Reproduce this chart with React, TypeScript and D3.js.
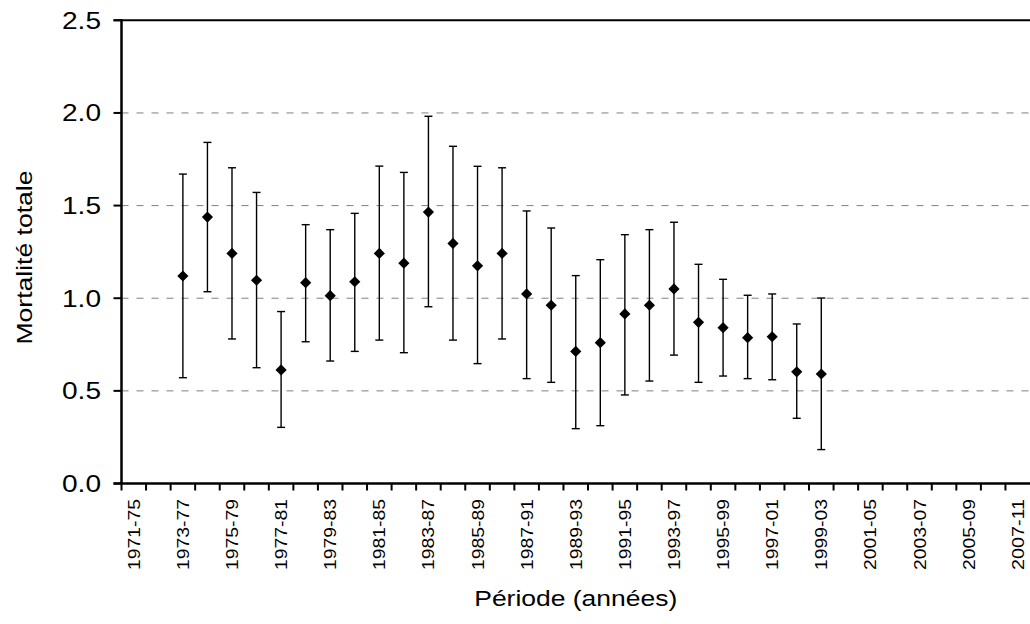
import React from "react";
import * as d3 from "d3";

const periods: string[] = [
  "1971-75","1972-76","1973-77","1974-78","1975-79","1976-80","1977-81","1978-82","1979-83","1980-84",
  "1981-85","1982-86","1983-87","1984-88","1985-89","1986-90","1987-91","1988-92","1989-93","1990-94",
  "1991-95","1992-96","1993-97","1994-98","1995-99","1996-00","1997-01","1998-02","1999-03","2000-04",
  "2001-05","2002-06","2003-07","2004-08","2005-09","2006-10","2007-11",
];

const estimate: (number | null)[] = [
  null, null, 1.12, 1.438, 1.242, 1.097, 0.613, 1.084, 1.014, 1.089,
  1.242, 1.189, 1.465, 1.296, 1.175, 1.242, 1.023, 0.962, 0.713, 0.76,
  0.915, 0.962, 1.05, 0.87, 0.841, 0.787, 0.792, 0.603, 0.591, null,
  null, null, null, null, null, null, null,
];

const lower: (number | null)[] = [
  null, null, 0.571, 1.035, 0.78, 0.625, 0.303, 0.765, 0.661, 0.713,
  0.774, 0.706, 0.954, 0.774, 0.647, 0.78, 0.566, 0.546, 0.296, 0.312,
  0.478, 0.553, 0.693, 0.546, 0.58, 0.566, 0.56, 0.352, 0.183, null,
  null, null, null, null, null, null, null,
];

const upper: (number | null)[] = [
  null, null, 1.67, 1.841, 1.704, 1.571, 0.928, 1.397, 1.37, 1.458,
  1.713, 1.679, 1.982, 1.82, 1.712, 1.704, 1.471, 1.379, 1.122, 1.208,
  1.343, 1.37, 1.41, 1.183, 1.102, 1.016, 1.023, 0.861, 1.001, null,
  null, null, null, null, null, null, null,
];

const yTicks: number[] = [0, 0.5, 1.0, 1.5, 2.0, 2.5];
const gridValues: number[] = [0.5, 1.0, 1.5, 2.0];

const W = 1030;
const H = 624;
const left = 121.5;
const right = 1030;
const top = 20.3;
const bottom = 483.5;
const font = "Liberation Sans, Arial, Helvetica, sans-serif";

export default function App() {
  const x = d3.scaleBand<string>().domain(periods).range([left, right]).padding(0);
  const y = d3.scaleLinear().domain([0, 2.5]).range([bottom, top]);
  const bw = x.bandwidth();
  const diamond = d3.symbol().type(d3.symbolDiamond2).size(80)();

  return (
    <svg width={W} height={H} style={{ position: "absolute", left: 0, top: 0, background: "#fff" }}>
      <rect width={W} height={H} fill="#fff" />
      {gridValues.map((v) => (
        <line key={"g" + v} x1={left} x2={right} y1={y(v)} y2={y(v)} stroke="#808080" strokeWidth={1} strokeDasharray="7,8" />
      ))}
      <line x1={left - 8} x2={right} y1={y(2.5)} y2={y(2.5)} stroke="#000" strokeWidth={2} />
      <line x1={left} x2={left} y1={top - 1} y2={bottom + 1} stroke="#000" strokeWidth={2.5} />
      {yTicks.map((v) => (
        <g key={"yt" + v}>
          <line x1={left - 8} x2={left} y1={y(v)} y2={y(v)} stroke="#000" strokeWidth={2} />
          <text x={101} y={y(v)} dy="0.36em" textAnchor="end" fontFamily={font} fontSize={23} fill="#000"
            textLength={39} lengthAdjust="spacingAndGlyphs">
            {v.toFixed(1)}
          </text>
        </g>
      ))}
      <line x1={left - 8} x2={right} y1={bottom} y2={bottom} stroke="#000" strokeWidth={2.5} />
      {periods.map((p) => (
        <line key={"xt" + p} x1={x(p)!} x2={x(p)!} y1={bottom} y2={bottom + 7} stroke="#000" strokeWidth={2} />
      ))}
      {periods.map((p, i) =>
        i % 2 === 0 ? (
          <text key={"xl" + p} transform={`translate(${x(p)! + bw / 2 + 6},${499}) rotate(-90)`} textAnchor="end"
            fontFamily={font} fontSize={16} fill="#000" textLength={71} lengthAdjust="spacingAndGlyphs">
            {p}
          </text>
        ) : null
      )}
      {periods.map((p, i) => {
        const e = estimate[i];
        const lo = lower[i];
        const hi = upper[i];
        if (e === null || lo === null || hi === null) return null;
        const cx = x(p)! + bw / 2;
        return (
          <g key={"e" + p}>
            <line x1={cx} x2={cx} y1={y(lo)} y2={y(hi)} stroke="#000" strokeWidth={1.4} />
            <line x1={cx - 4} x2={cx + 4} y1={y(lo)} y2={y(lo)} stroke="#000" strokeWidth={1.4} />
            <line x1={cx - 4} x2={cx + 4} y1={y(hi)} y2={y(hi)} stroke="#000" strokeWidth={1.4} />
            <path d={diamond!} transform={`translate(${cx},${y(e)})`} fill="#000" />
          </g>
        );
      })}
      <text x={(left + right) / 2} y={606} textAnchor="middle" fontFamily={font} fontSize={22} fill="#000"
        textLength={203} lengthAdjust="spacingAndGlyphs">
        Période (années)
      </text>
      <text transform={`translate(${32},${257.5}) rotate(-90)`} textAnchor="middle" fontFamily={font} fontSize={22}
        fill="#000" textLength={174} lengthAdjust="spacingAndGlyphs">
        Mortalité totale
      </text>
    </svg>
  );
}
